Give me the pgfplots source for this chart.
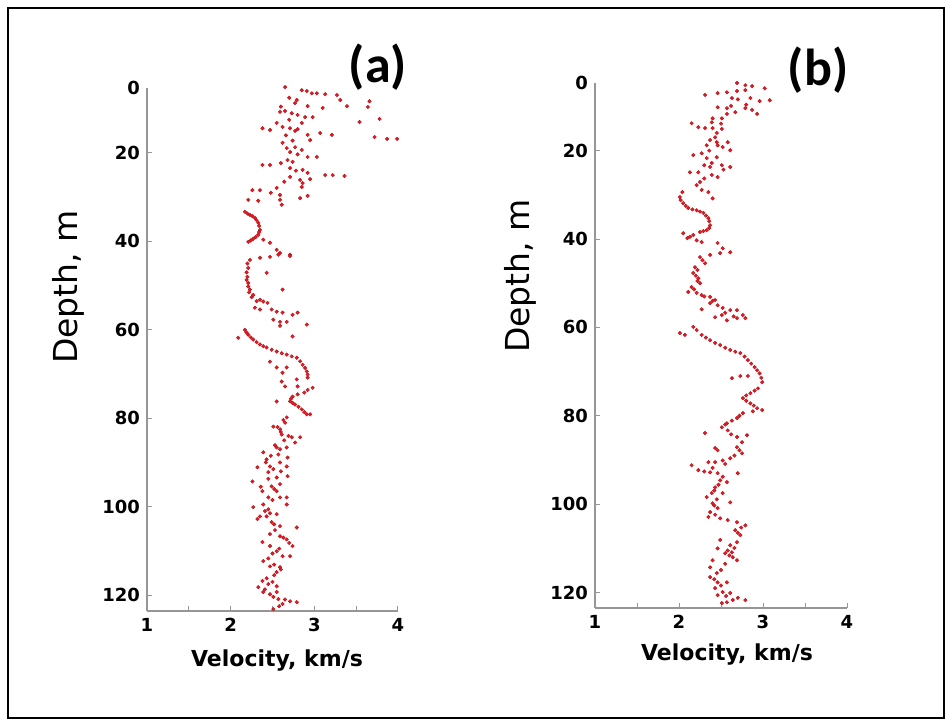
\documentclass[border=0pt]{standalone}
\usepackage{fontspec}
\setmainfont{DejaVu Sans}
\newfontfamily\carl{Carlito}
\usepackage{pgfplots}
\usepackage{pgfplotstable}
\pgfplotsset{compat=1.18}
\definecolor{dotred}{RGB}{232,26,34}
\definecolor{axgray}{RGB}{150,150,150}

\pgfplotstableread{
v d
2.65 5.1
2.85 5.8
2.91 6.0
2.97 6.5
3.03 6.5
3.13 6.7
2.79 8.0
2.77 8.7
3.27 6.9
3.31 8.0
3.39 9.4
3.66 8.3
3.64 9.6
2.92 9.4
3.10 9.8
2.59 10.7
2.65 10.5
2.73 11.0
2.80 11.4
2.89 11.9
2.98 11.9
3.54 13.0
3.78 12.3
2.38 14.4
2.47 14.8
2.55 13.2
2.62 14.1
2.71 14.4
2.77 15.0
2.85 13.2
2.92 15.9
2.95 17.1
3.07 15.5
3.21 15.9
3.72 16.4
3.87 16.8
3.99 16.8
2.62 17.7
2.67 18.9
2.71 19.8
2.77 18.7
2.85 19.3
2.92 20.9
3.03 20.9
2.68 21.6
2.74 22.0
2.38 22.7
2.47 22.7
2.71 23.4
2.86 23.8
2.92 24.5
3.13 25.0
3.22 25.0
3.36 25.2
2.71 25.4
2.83 26.1
2.86 26.8
2.85 27.7
2.95 25.9
2.26 28.4
2.35 28.4
2.55 27.9
2.59 29.5
2.21 30.6
2.33 30.8
2.59 30.6
2.61 31.7
2.83 30.2
2.92 29.7
2.70 7.5
2.60 9.5
2.70 12.5
2.80 14.6
2.66 16.0
2.74 17.2
2.80 20.3
2.60 22.3
2.78 24.0
2.64 26.5
2.48 29.0
2.17 33.3
2.20 33.7
2.23 34.0
2.26 34.3
2.29 34.7
2.31 35.2
2.33 35.8
2.34 36.5
2.35 37.4
2.34 37.9
2.33 38.5
2.30 39.0
2.27 39.4
2.24 39.8
2.21 40.1
2.39 39.6
2.47 40.3
2.55 41.9
2.59 42.6
2.71 43.0
2.23 44.2
2.35 43.7
2.47 43.5
2.57 43.0
2.71 43.3
2.21 46.0
2.43 47.1
2.20 48.0
2.21 49.4
2.23 50.9
2.27 52.1
2.35 53.2
2.44 53.9
2.20 45.0
2.19 47.0
2.19 48.7
2.21 50.2
2.22 51.5
2.25 52.6
2.31 53.5
2.39 53.6
2.62 50.9
2.29 55.0
2.35 55.4
2.49 55.4
2.55 55.9
2.62 56.1
2.74 56.6
2.80 56.1
2.51 57.7
2.59 58.2
2.67 58.2
2.59 59.1
2.91 58.8
2.17 60.0
2.21 61.1
2.09 61.8
2.74 61.5
2.27 62.2
2.35 63.3
2.43 64.0
2.55 64.9
2.67 65.6
2.79 66.3
2.86 67.9
2.91 69.4
2.92 70.8
2.19 60.6
2.24 61.7
2.31 62.8
2.39 63.7
2.49 64.5
2.61 65.3
2.73 66.0
2.83 67.1
2.89 68.6
2.92 70.1
2.47 67.2
2.55 68.5
2.62 69.7
2.67 68.5
2.79 71.2
2.61 71.7
2.65 72.8
2.80 72.8
2.98 73.1
2.88 74.2
2.74 75.1
2.71 76.2
2.77 76.9
2.85 78.0
2.91 79.1
2.95 79.1
2.92 73.6
2.80 74.6
2.72 75.6
2.74 76.5
2.81 77.4
2.88 78.6
2.55 76.2
2.67 79.8
2.65 81.0
2.51 81.9
2.59 82.5
2.61 83.7
2.73 84.3
2.83 84.3
2.77 85.5
2.53 86.1
2.59 87.0
2.67 86.6
2.39 87.7
2.57 88.2
2.68 88.9
2.32 91.1
2.43 89.3
2.47 90.9
2.59 90.0
2.67 90.9
2.26 94.3
2.45 92.2
2.55 93.4
2.68 93.1
2.38 96.5
2.49 95.4
2.59 94.9
2.55 96.5
2.45 97.9
2.59 97.9
2.67 97.9
2.67 99.5
2.27 100.1
2.39 99.5
2.45 100.6
2.35 102.2
2.32 102.8
2.43 102.2
2.55 101.7
2.49 103.5
2.59 104.4
2.79 104.7
2.47 106.2
2.59 106.7
2.67 107.4
2.74 108.9
2.38 108.0
2.47 108.9
2.55 110.1
2.62 111.2
2.71 111.2
2.39 112.3
2.47 113.5
2.59 113.7
2.55 114.8
2.38 116.8
2.45 117.5
2.55 118.0
2.33 118.2
2.39 119.3
2.47 119.8
2.55 119.3
2.57 120.9
2.71 121.4
2.79 121.6
2.62 122.0
2.51 123.2
2.63 80.4
2.56 82.0
2.60 83.1
2.69 84.0
2.64 85.0
2.55 86.6
2.48 88.5
2.42 90.0
2.51 91.5
2.60 92.0
2.45 93.7
2.36 95.5
2.52 96.0
2.50 98.5
2.41 101.0
2.47 101.5
2.52 104.0
2.53 105.3
2.63 107.0
2.70 108.2
2.58 109.5
2.50 110.6
2.45 111.7
2.52 113.1
2.60 114.2
2.52 115.5
2.43 116.2
2.50 117.0
2.41 118.7
2.51 120.4
2.65 121.0
2.58 122.5
}\dataA

\pgfplotstableread{
v d
2.31 7.4
2.46 7.0
2.57 6.8
2.69 4.7
2.79 5.2
2.87 5.4
2.69 6.5
2.79 6.3
3.02 5.9
2.63 8.1
2.70 8.4
2.85 8.1
2.96 8.8
3.08 8.6
2.46 10.2
2.57 10.4
2.67 11.3
2.79 10.4
2.87 10.8
2.93 11.7
2.40 12.7
2.51 12.7
2.57 11.7
2.39 13.6
2.15 13.8
2.23 14.7
2.31 14.9
2.40 14.9
2.51 15.1
2.43 17.0
2.45 18.1
2.46 18.8
2.37 17.6
2.58 18.1
2.33 18.8
2.61 19.9
2.17 21.0
2.27 20.6
2.33 21.7
2.39 22.8
2.37 23.7
2.51 23.3
2.61 23.7
2.13 24.9
2.23 24.9
2.39 25.5
2.46 26.0
2.25 27.1
2.21 27.8
2.27 28.9
2.40 30.8
2.80 9.6
2.62 9.9
2.50 13.9
2.45 16.0
2.52 19.2
2.36 20.0
2.45 21.5
2.30 23.3
2.53 24.3
2.30 26.3
2.35 29.4
2.04 29.4
2.01 30.5
2.02 31.2
2.05 31.9
2.08 32.5
2.11 33.0
2.16 33.3
2.21 33.5
2.25 33.8
2.29 34.1
2.32 34.7
2.35 35.3
2.36 36.0
2.37 36.9
2.36 37.5
2.33 38.0
2.29 38.2
2.25 38.4
2.17 39.1
2.13 39.5
2.10 39.8
2.05 38.7
2.21 40.3
2.27 40.7
2.46 40.9
2.52 42.1
2.61 43.0
2.25 44.1
2.37 43.6
2.49 43.2
2.31 45.5
2.19 46.4
2.17 47.7
2.23 48.9
2.25 50.0
2.15 50.9
2.11 52.0
2.21 52.2
2.27 52.7
2.37 53.1
2.43 53.8
2.37 54.5
2.46 55.0
2.27 55.9
2.52 55.6
2.61 56.1
2.69 56.1
2.76 57.2
2.51 57.2
2.57 58.4
2.69 57.9
2.79 57.9
2.43 57.7
2.28 44.8
2.22 47.0
2.20 48.3
2.22 49.5
2.18 51.4
2.30 53.0
2.40 54.0
2.55 56.7
2.65 57.5
2.01 61.3
2.07 61.7
2.17 59.9
2.21 60.6
2.27 61.7
2.32 62.3
2.37 62.9
2.43 63.5
2.49 64.0
2.55 64.6
2.61 65.1
2.67 65.5
2.73 65.8
2.78 66.6
2.82 67.4
2.86 68.2
2.90 69.0
2.93 69.7
2.96 70.4
2.98 71.4
2.99 72.4
2.63 71.5
2.73 71.0
2.82 71.0
2.94 73.8
2.90 74.3
2.85 74.9
2.80 75.4
2.76 76.0
2.80 76.6
2.85 77.2
2.89 77.7
2.93 78.3
2.99 78.7
2.88 79.0
2.76 79.4
2.72 80.0
2.69 80.5
2.63 81.1
2.57 81.7
2.51 82.6
2.58 83.3
2.69 84.8
2.81 84.4
2.31 83.9
2.69 87.1
2.75 88.5
2.43 87.3
2.46 87.8
2.35 90.5
2.43 90.5
2.52 90.1
2.61 89.6
2.15 91.2
2.23 92.3
2.37 92.8
2.46 93.0
2.70 93.0
2.49 94.6
2.57 95.0
2.43 96.2
2.39 97.5
2.52 97.5
2.61 99.6
2.33 98.4
2.40 99.8
2.46 100.9
2.37 101.8
2.35 102.9
2.49 103.2
2.69 104.1
2.79 104.8
2.67 105.9
2.73 107.0
2.69 108.6
2.61 109.3
2.63 110.9
2.49 108.1
2.46 110.0
2.55 111.1
2.64 112.0
2.69 112.7
2.40 112.7
2.37 114.3
2.45 115.6
2.37 116.5
2.46 117.7
2.57 117.7
2.43 119.0
2.52 119.9
2.61 120.1
2.64 121.7
2.79 121.7
2.57 122.2
2.51 122.4
2.46 120.6
2.55 82.0
2.62 84.2
2.75 86.0
2.72 87.8
2.66 89.0
2.55 90.9
2.40 91.8
2.30 92.6
2.52 93.8
2.47 95.6
2.42 96.9
2.45 98.9
2.42 100.3
2.43 102.4
2.58 103.6
2.74 105.3
2.70 106.5
2.66 109.9
2.58 110.5
2.60 111.6
2.55 113.5
2.50 114.9
2.42 117.0
2.50 118.4
2.56 120.8
2.70 121.2
}\dataB

\pgfplotsset{
  vstyle/.style={
    scale only axis, clip=false,
    xmin=1, xmax=4, y dir=reverse,
    axis x line=bottom, axis y line=left,
    axis line style={-, draw=axgray, line width=0.7pt},
    xtick={1,2,3,4}, minor xtick={1.5,2.5,3.5},
    ytick={20,40,60,80,100,120},
    tick align=inside,
    major tick length=2.5pt, minor tick length=2.5pt,
    every tick/.style={draw=axgray, line width=0.5pt},
    tick label style={font=\bfseries\fontsize{9}{10}\selectfont},
    /pgf/number format/assume math mode=true,
    extra y tick style={tick style={draw=none}},
    extra y tick labels={0},
  },
  dots/.style={only marks, mark=*, mark size=0.9pt,
    mark options={fill=dotred, draw=dotred!78!black, line width=0.2pt}},
}

\begin{document}
\begin{tikzpicture}
\path[use as bounding box] (0,0) rectangle (476pt,362.5pt);
\fill[white] (0,0) rectangle (476pt,362.5pt);
\draw[line width=1pt] (4pt,3.5pt) rectangle (472pt,358.5pt);

\begin{axis}[vstyle, at={(73.5pt,57pt)}, anchor=south west,
  width=125.5pt, height=261.5pt, ymin=5.3, ymax=123.6,
  extra y ticks={5.3}]
\addplot[dots] table[x=v, y=d] {\dataA};
\end{axis}

\begin{axis}[vstyle, at={(297.5pt,58.5pt)}, anchor=south west,
  width=126pt, height=262.5pt, ymin=4.7, ymax=123.5,
  extra y ticks={4.7}]
\addplot[dots] table[x=v, y=d] {\dataB};
\end{axis}

\node[font=\bfseries\fontsize{11}{12}\selectfont] at (138.5pt,32pt) {Velocity, km/s};
\node[font=\bfseries\fontsize{11}{12}\selectfont] at (363.5pt,35pt) {Velocity, km/s};
\node[rotate=90, font=\fontsize{16.5}{18}\selectfont] at (34pt,219pt) {Depth, m};
\node[rotate=90, font=\fontsize{16.5}{18}\selectfont] at (260pt,224.5pt) {Depth, m};
\node[font=\carl\bfseries\fontsize{26}{28}\selectfont] at (189pt,329pt) {(a)};
\node[font=\carl\bfseries\fontsize{26}{28}\selectfont] at (409pt,327.5pt) {(b)};
\end{tikzpicture}
\end{document}
